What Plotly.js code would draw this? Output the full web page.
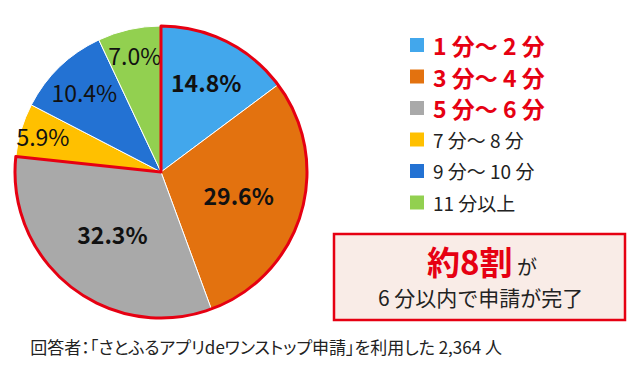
<!DOCTYPE html>
<html><head><meta charset="utf-8">
<script src="https://cdn.plot.ly/plotly-3.0.1.min.js"></script>
<style>html,body{margin:0;padding:0;background:#fff}
.annotation[data-index="8"] .annotation-text{font-feature-settings:"palt" 1;}</style>
</head><body><div id="chart" style="width:640px;height:370px"></div>
<script>
const categories = ["1 分～ 2 分","3 分～ 4 分","5 分～ 6 分","7 分～ 8 分","9 分～ 10 分","11 分以上"];
const shares = [14.8, 29.6, 32.3, 5.9, 10.4, 7.0];
const colors = ["#42a7ec","#e3720f","#a9a9a9","#ffc000","#2372d3","#92d050"];
const highlighted = [true, true, true, false, false, false];
const calloutMain = "約8割";
const calloutSuffix = "が";
const calloutLine2 = "6 分以内で申請が完了";
const footnote = "回答者：「さとふるアプリdeワンストップ申請」を利用した 2,364 人";

const FONT = "'Noto Sans CJK JP', 'Noto Sans', sans-serif";
const RED = "#e60012";
const domain = {x:[(161-146)/640,(161+146)/640], y:[1-318/370, 1-26/370]};

const hiSum = shares.filter((v,i)=>highlighted[i]).reduce((a,b)=>a+b,0);
const restSum = shares.filter((v,i)=>!highlighted[i]).reduce((a,b)=>a+b,0);

const traces = [
  {type:'pie', labels:categories, values:shares, sort:false, direction:'clockwise', rotation:0,
   domain:domain, marker:{colors:colors, line:{color:'#ffffff', width:1}},
   text:shares.map((v,i)=>highlighted[i] ? '<b>'+v.toFixed(1)+'%</b>' : v.toFixed(1)+'%'),
   textinfo:'text', textposition:'inside', insidetextorientation:'horizontal',
   textfont:{family:FONT, size:23, color:'#111'}, hoverinfo:'none', showlegend:false},
  {type:'pie', labels:['hi','rest'], values:[hiSum, restSum], sort:false, direction:'clockwise', rotation:0,
   domain:domain, marker:{colors:['rgba(0,0,0,0)','rgba(0,0,0,0)'], line:{color:[RED,'rgba(0,0,0,0)'], width:[3,0]}},
   textinfo:'none', hoverinfo:'none', showlegend:false}
];

const shapes = [];
const annotations = [];
const legX = 410, legY0 = 45, legDy = 31.5, sq = 14;
categories.forEach((c,i)=>{
  const yc = legY0 + i*legDy;
  shapes.push({type:'rect', xref:'paper', yref:'paper', x0:legX/640, x1:(legX+sq)/640,
    y0:1-(yc+sq/2)/370, y1:1-(yc-sq/2)/370, fillcolor:colors[i], line:{width:0}});
  annotations.push({xref:'paper', yref:'paper', x:431/640, y:1-yc/370, xanchor:'left', yanchor:'middle',
    showarrow:false, text: highlighted[i] ? '<b>'+c+'</b>' : c,
    font:{family:FONT, size: highlighted[i] ? 23 : 19, color: highlighted[i] ? RED : '#222'}});
});
// callout box
shapes.push({type:'rect', xref:'paper', yref:'paper', x0:334/640, x1:625/640, y0:1-320/370, y1:1-234/370,
  fillcolor:'#f9ece7', line:{color:RED, width:2.5}});
annotations.push({xref:'paper', yref:'paper', x:482/640, y:1-261/370, xanchor:'center', yanchor:'middle', showarrow:false,
  text:'<span style="color:'+RED+';font-size:33px"><b>'+calloutMain+'</b></span> '+calloutSuffix,
  font:{family:FONT, size:20, color:'#222'}});
annotations.push({xref:'paper', yref:'paper', x:480/640, y:1-297/370, xanchor:'center', yanchor:'middle', showarrow:false,
  text:calloutLine2, font:{family:FONT, size:21, color:'#222'}});
annotations.push({xref:'paper', yref:'paper', x:266/640, y:1-346/370, xanchor:'center', yanchor:'middle', showarrow:false,
  text:footnote, font:{family:FONT, size:17, color:'#222'}});

const layout = {width:640, height:370, margin:{l:0,r:0,t:0,b:0}, paper_bgcolor:'#fff',
  showlegend:false, shapes:shapes, annotations:annotations,
  uniformtext:{minsize:23, mode:'show'}, font:{family:FONT}};
Plotly.newPlot('chart', traces, layout, {displayModeBar:false, staticPlot:true});
</script></body></html>
